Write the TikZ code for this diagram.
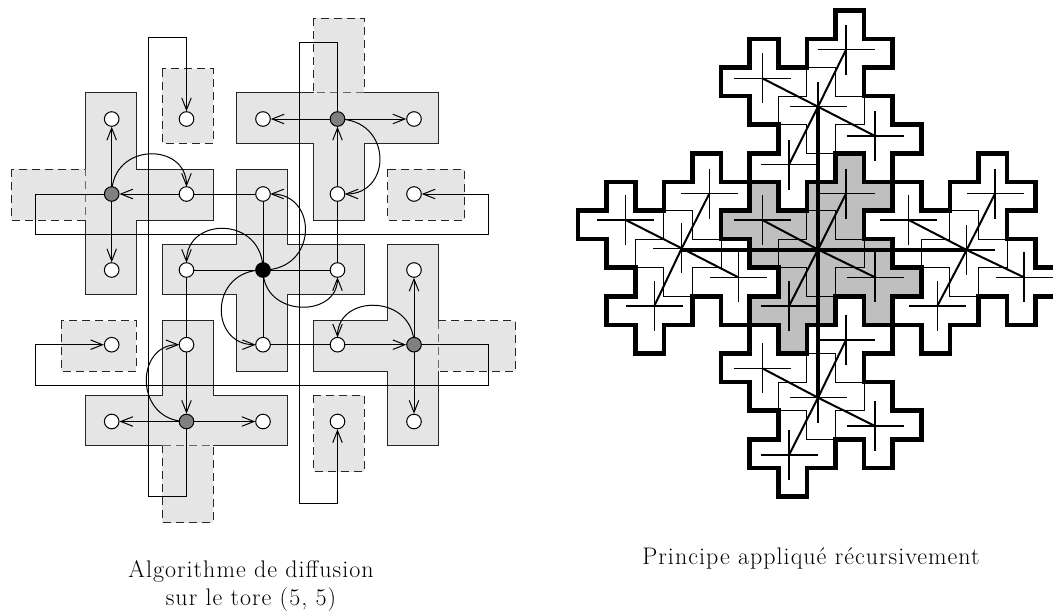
\documentclass[tikz,border=0pt]{standalone}
\usepackage{fontspec}
\usetikzlibrary{arrows.meta}
\pgfdeclarelayer{fills}\pgfdeclarelayer{links}
\pgfsetlayers{fills,links,main}
\newfontfamily\capfont[LetterSpace=4.3]{Latin Modern Roman}
\definecolor{regionfill}{gray}{0.9}
\definecolor{supercore}{gray}{0.75}
\definecolor{relay}{gray}{0.5}
\newcommand{\crossoutline}{(-.5,-1.5)--(.5,-1.5)--(.5,-.5)--(1.5,-.5)--(1.5,.5)--(.5,.5)--(.5,1.5)--(-.5,1.5)--(-.5,.5)--(-1.5,.5)--(-1.5,-.5)--(-.5,-.5)--cycle}
\newcommand{\superoutline}{(.5,-3.5)--(1.5,-3.5)--(1.5,-2.5)--(2.5,-2.5)--(2.5,-1.5)--(1.5,-1.5)--(1.5,-.5)--(2.5,-.5)--(2.5,.5)--(3.5,.5)--(3.5,1.5)--(2.5,1.5)--(2.5,2.5)--(1.5,2.5)--(1.5,1.5)--(.5,1.5)--(.5,2.5)--(-.5,2.5)--(-.5,3.5)--(-1.5,3.5)--(-1.5,2.5)--(-2.5,2.5)--(-2.5,1.5)--(-1.5,1.5)--(-1.5,.5)--(-2.5,.5)--(-2.5,-.5)--(-3.5,-.5)--(-3.5,-1.5)--(-2.5,-1.5)--(-2.5,-2.5)--(-1.5,-2.5)--(-1.5,-1.5)--(-.5,-1.5)--(-.5,-2.5)--(.5,-2.5)--cycle}
\tikzset{
  vx/.style={circle,draw=black,fill=white,minimum size=14.6pt,inner sep=0pt,line width=1pt},
  relaynode/.style={vx,fill=relay},
  rootnode/.style={vx,fill=black},
  link/.style={line width=1pt,black},
  arw/.style={link,-{Straight Barb[length=12pt,width=9.5pt,quick]}},
  arcw/.style={arw,shorten >=7.3pt},
  region/.style={line width=1pt,draw=black!85},
  dashregion/.style={fill=regionfill,draw=black!85,line width=1pt,dash pattern=on 8pt off 5pt},
  cellline/.style={line width=1.1pt,black},
  midline/.style={line width=2pt,black},
  heavyoutline/.style={line width=4.6pt,black,line join=miter},
  axisline/.style={line width=4pt,black},
  caption/.style={font=\fontsize{24}{28}\capfont,align=center}
}
\begin{document}
\begin{tikzpicture}[x=1pt,y=-1pt]
\useasboundingbox (0,0) rectangle (1053,611);
\clip (0,0) rectangle (1053,611);
% --- left: grid nodes
\foreach \c/\x in {1/111.7,2/186.5,3/263,4/337.5,5/414}{
  \foreach \r/\y in {1/119,2/194,3/270,4/344.7,5/421.5}{
    \ifnum\c\r=12 \node[relaynode] (n\c\r) at (\x,\y) {};
    \else\ifnum\c\r=41 \node[relaynode] (n\c\r) at (\x,\y) {};
    \else\ifnum\c\r=54 \node[relaynode] (n\c\r) at (\x,\y) {};
    \else\ifnum\c\r=25 \node[relaynode] (n\c\r) at (\x,\y) {};
    \else\ifnum\c\r=33 \node[rootnode] (n\c\r) at (\x,\y) {};
    \else \node[vx] (n\c\r) at (\x,\y) {};
    \fi\fi\fi\fi\fi
  }
}
\begin{pgfonlayer}{fills}
% dashed blocks
\path[dashregion] (11,169.3) rectangle (85.5,220);
\path[dashregion] (313.7,18.3) rectangle (364,92.7);
\path[dashregion] (438.3,320.7) rectangle (515.5,371);
\path[dashregion] (162.3,445.3) rectangle (213,522.5);
\path[dashregion] (162.3,68.7) rectangle (213,143.3);
\path[dashregion] (387.7,169.3) rectangle (464.7,220);
\path[dashregion] (61.3,320.7) rectangle (136,371);
\path[dashregion] (313.7,395) rectangle (364,471.7);
% solid regions
\fill[regionfill] (85.5,169.3)--(85.5,92.7)--(136,92.7)--(136,169.3)--(213,169.3)--(213,220)--(136,220)--(136,294.3)--(85.5,294.3)--(85.5,220)--cycle;
\draw[region] (85.5,169.3)--(85.5,92.7)--(136,92.7)--(136,169.3)--(213,169.3)--(213,220)--(136,220)--(136,294.3)--(85.5,294.3)--(85.5,220);
\fill[regionfill] (364,92.7)--(438.3,92.7)--(438.3,143)--(364,143)--(364,220)--(313.7,220)--(313.7,143)--(236.7,143)--(236.7,92.7)--(313.7,92.7)--cycle;
\draw[region] (364,92.7)--(438.3,92.7)--(438.3,143)--(364,143)--(364,220)--(313.7,220)--(313.7,143)--(236.7,143)--(236.7,92.7)--(313.7,92.7);
\path[region,fill=regionfill] (236.7,169.3)--(287.3,169.3)--(287.3,244)--(364,244)--(364,294.3)--(287.3,294.3)--(287.3,371)--(236.7,371)--(236.7,294.3)--(162.3,294.3)--(162.3,244)--(236.7,244)--cycle;
\fill[regionfill] (438.3,320.7)--(438.3,244)--(387.7,244)--(387.7,320.7)--(313.7,320.7)--(313.7,371)--(387.7,371)--(387.7,445.3)--(438.3,445.3)--(438.3,371)--cycle;
\draw[region] (438.3,320.7)--(438.3,244)--(387.7,244)--(387.7,320.7)--(313.7,320.7)--(313.7,371)--(387.7,371)--(387.7,445.3)--(438.3,445.3)--(438.3,371);
\fill[regionfill] (162.3,445.3)--(85.5,445.3)--(85.5,395)--(162.3,395)--(162.3,320.7)--(213,320.7)--(213,395)--(287.3,395)--(287.3,445.3)--(213,445.3)--cycle;
\draw[region] (162.3,445.3)--(85.5,445.3)--(85.5,395)--(162.3,395)--(162.3,320.7)--(213,320.7)--(213,395)--(287.3,395)--(287.3,445.3)--(213,445.3);
\end{pgfonlayer}
% route corners
\coordinate (ra1) at (35,194); \coordinate (ra2) at (35,234.3); \coordinate (ra3) at (488.7,234.3); \coordinate (ra4) at (488.7,194);
\coordinate (rb1) at (337.5,42.3); \coordinate (rb2) at (299.3,42.3); \coordinate (rb3) at (299.3,503.3); \coordinate (rb4) at (337.5,503.3);
\coordinate (rc1) at (488.7,344.7); \coordinate (rc2) at (488.7,385.7); \coordinate (rc3) at (35,385.7); \coordinate (rc4) at (35,344.7);
\coordinate (rd1) at (186.5,496); \coordinate (rd2) at (148,496); \coordinate (rd3) at (148,37.7); \coordinate (rd4) at (186.5,37.7);
\begin{pgfonlayer}{links}
% plain links
\draw[link] (n23.center)--(n33.center);
\draw[link] (n33.center)--(n43.center);
\draw[link] (n32.center)--(n33.center);
\draw[link] (n33.center)--(n34.center);
\draw[link] (n32.center)--(n22.center);
\draw[link] (n43.center)--(n42.center);
\draw[link] (n34.center)--(n44.center);
\draw[link] (n23.center)--(n24.center);
% straight arrows
\draw[arw] (n12.center)--(n11);
\draw[arw] (n12.center)--(n13);
\draw[arw] (n22.center)--(n12);
\draw[arw] (n41.center)--(n31);
\draw[arw] (n41.center)--(n51);
\draw[arw] (n42.center)--(n41);
\draw[arw] (n54.center)--(n53);
\draw[arw] (n54.center)--(n55);
\draw[arw] (n44.center)--(n54);
\draw[arw] (n25.center)--(n15);
\draw[arw] (n25.center)--(n35);
\draw[arw] (n24.center)--(n25);
% wrap-around routes
\draw[arw] (n12.center)--(ra1)--(ra2)--(ra3)--(ra4)--(n52);
\draw[arw] (n41.center)--(rb1)--(rb2)--(rb3)--(rb4)--(n45);
\draw[arw] (n54.center)--(rc1)--(rc2)--(rc3)--(rc4)--(n14);
\draw[arw] (n25.center)--(rd1)--(rd2)--(rd3)--(rd4)--(n21);
% curved arrows
\draw[arcw] (n12.center) .. controls +(0,-52) and +(0,-52) .. (n22.center);
\draw[arcw] (n33.center) .. controls +(0,-54) and +(0,-54) .. (n23.center);
\draw[arcw] (n33.center) .. controls +(55,0) and +(55,0) .. (n32.center);
\draw[arcw] (n33.center) .. controls +(0,48) and +(0,48) .. (n43.center);
\draw[arcw] (n33.center) .. controls +(-54,0) and +(-54,0) .. (n34.center);
\draw[arcw] (n41.center) .. controls +(55,0) and +(55,0) .. (n42.center);
\draw[arcw] (n54.center) .. controls +(0,-51) and +(0,-51) .. (n44.center);
\draw[arcw] (n25.center) .. controls +(-52,0) and +(-52,0) .. (n24.center);
\end{pgfonlayer}
% --- right: recursive crosses
\def\cu{28.6}
\foreach \ox/\oy/\col/\cx/\cy/\ax/\ay/\bx/\by/\dx/\dy/\ex/\ey in {
  821.2/110.4/white/818/106.7/762.3/78.3/846/49.7/875/136/789/164.7,
  678.2/253.4/white/681.7/248.3/625.7/220/709.3/193.7/738.3/277.3/654.3/306,
  821.2/253.4/supercore/818/249.5/762.3/220/846/193.7/875/277.3/789/306,
  964.2/253.4/white/966.7/250/908.7/220/995/193.7/1024/277.3/937.3/306,
  821.2/396.4/white/818/397.7/762.3/368.3/846/340/875/426/789/455}{
  \fill[\col,shift={(\ox,\oy)},x=\cu pt,y=-\cu pt] \superoutline;
  \foreach \i/\j in {0/0,-2/-1,1/-2,2/1,-1/2}{
    \draw[cellline,shift={(\ox+\i*\cu,\oy+\j*\cu)},x=\cu pt,y=-\cu pt] \crossoutline;
  }
  \foreach \px/\py in {\cx/\cy,\ax/\ay,\bx/\by,\dx/\dy,\ex/\ey}{
    \draw[cellline] (\px-28.5,\py)--(\px+28.5,\py);
    \draw[cellline] (\px,\py-25)--(\px,\py+25);
  }
  \foreach \px/\py in {\ax/\ay,\bx/\by,\dx/\dy,\ex/\ey}{
    \draw[midline] (\cx,\cy)--(\px,\py);
  }
}
\foreach \ox/\oy in {821.2/110.4,678.2/253.4,821.2/253.4,964.2/253.4,821.2/396.4}{
  \draw[heavyoutline,shift={(\ox,\oy)},x=\cu pt,y=-\cu pt] \superoutline;
}
\coordinate (ctop) at (818,106.7); \coordinate (cbot) at (818,397.7);
\coordinate (cleft) at (681.7,249.5); \coordinate (cright) at (966.7,249.5);
\draw[axisline] (ctop)--(cbot);
\draw[axisline] (cleft)--(cright);
% captions
\node[caption] (capa) at (251,586.5) {Algorithme de diffusion\\sur le tore (5, 5)};
\node[caption] (capb) at (811,558) {Principe appliqué récursivement};
\end{tikzpicture}
\end{document}
